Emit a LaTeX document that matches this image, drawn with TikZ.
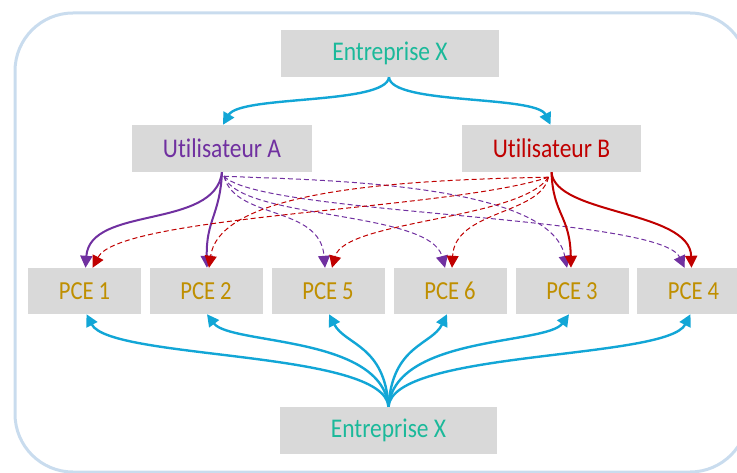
\documentclass[tikz,border=0pt]{standalone}
\usepackage{fontspec}
\setmainfont[FakeStretch=0.87, Ligatures=NoCommon, RawFeature=-liga]{Carlito}
\usepackage{tikz}
\usetikzlibrary{arrows.meta}

\definecolor{frameblue}{HTML}{C9DCEE}
\definecolor{boxgray}{HTML}{D9D9D9}
\definecolor{teal}{HTML}{1BB99A}
\definecolor{purp}{HTML}{7030A0}
\definecolor{darkred}{HTML}{C00000}
\definecolor{gold}{HTML}{BF8F00}
\definecolor{arrowblue}{HTML}{12A6D6}

\tikzset{
  box/.style={fill=boxgray, minimum height=47pt, inner sep=0pt, font=\fontsize{27}{30}\selectfont},
  pcebox/.style={box, minimum width=113pt, minimum height=46pt, text=gold, font=\fontsize{26}{30}\selectfont},
  bluearrow/.style={arrowblue, line width=2.4pt, -{Triangle[length=12pt,width=12pt]}},
  solidpurple/.style={purp, line width=2pt, -{Triangle[length=12pt,width=12pt]}},
  solidred/.style={darkred, line width=2pt, -{Triangle[length=12pt,width=12pt]}},
  dashpurple/.style={purp, line width=1pt, dash pattern=on 5pt off 3pt, -{Triangle[length=12pt,width=12pt]}},
  dashred/.style={darkred, line width=1pt, dash pattern=on 5pt off 3pt, -{Triangle[length=12pt,width=12pt]}}
}

\begin{document}
\begin{tikzpicture}[x=1pt, y=-1pt]

  \useasboundingbox (0,0) rectangle (737,473);
  \clip (0,0) rectangle (737,473);

  % frame
  \draw[frameblue, line width=3pt, rounded corners=58pt] (15,13) rectangle (748,472);

  % boxes
  \node[box, minimum width=218pt, text=teal] (ent) at (390,53.5) {Entreprise X};
  \node[box, minimum width=180pt, text=purp] (ua) at (222,148.5) {Utilisateur A};
  \node[box, minimum width=179pt, text=darkred] (ub) at (551.5,148.5) {Utilisateur B};

  \node[pcebox] (pce1) at (84.5,291) {PCE 1};
  \node[pcebox] (pce2) at (206,291) {PCE 2};
  \node[pcebox] (pce5) at (328,291) {PCE 5};
  \node[pcebox] (pce6) at (450,291) {PCE 6};
  \node[pcebox] (pce3) at (572,291) {PCE 3};
  \node[pcebox] (pce4) at (693.5,291) {PCE 4};

  \node[box, minimum width=217pt, text=teal] (entb) at (388.5,430.5) {Entreprise X};

  % top company to users
  \draw[bluearrow] ([xshift=-1pt]ent.south) .. controls (386,105) and (240,95) .. ([xshift=1pt]ua.north);
  \draw[bluearrow] ([xshift=-1pt]ent.south) .. controls (391,105) and (536,95) .. ([xshift=-1pt]ub.north);

  % user A
  \draw[dashpurple] ([xshift=2pt,yshift=-4pt]ua.south) .. controls (235,220) and (320,205) .. ([xshift=-3pt]pce5.north);
  \draw[dashpurple] ([xshift=2pt,yshift=-4pt]ua.south) .. controls (240,220) and (430,210) .. ([xshift=-5pt]pce6.north);
  \draw[dashpurple] ([xshift=2pt,yshift=-4pt]ua.south) .. controls (300,180) and (550,180) .. ([xshift=-5pt]pce3.north);
  \draw[dashpurple] ([xshift=2pt,yshift=-4pt]ua.south) .. controls (260,215) and (660,215) .. ([xshift=-9pt]pce4.north);
  \draw[solidpurple] (ua.south) .. controls (215,230) and (90,205) .. ([xshift=1pt]pce1.north);
  \draw[solidpurple] (ua.south) .. controls (220,215) and (206,220) .. ([xshift=1pt]pce2.north);

  % user B
  \draw[dashred] ([xshift=-3pt,yshift=-5pt]ub.south) .. controls (450,210) and (120,215) .. ([xshift=8pt]pce1.north);
  \draw[dashred] ([xshift=-3pt,yshift=-5pt]ub.south) .. controls (400,180) and (220,190) .. ([xshift=3pt]pce2.north);
  \draw[dashred] ([xshift=-3pt,yshift=-5pt]ub.south) .. controls (520,220) and (345,220) .. ([xshift=4pt]pce5.north);
  \draw[dashred] ([xshift=-3pt,yshift=-5pt]ub.south) .. controls (540,215) and (455,210) .. ([xshift=2pt]pce6.north);
  \draw[solidred] (ub.south) .. controls (553,215) and (570,215) .. ([xshift=-1pt]pce3.north);
  \draw[solidred] (ub.south) .. controls (555,215) and (690,210) .. ([xshift=-2pt]pce4.north);

  % bottom company to PCEs
  \draw[bluearrow] (entb.north) .. controls (385,350) and (110,360) .. ([xshift=2pt]pce1.south);
  \draw[bluearrow] (entb.north) .. controls (382,335) and (230,345) .. ([xshift=1pt]pce2.south);
  \draw[bluearrow] (entb.north) .. controls (385,345) and (345,345) .. ([xshift=1pt]pce5.south);
  \draw[bluearrow] (entb.north) .. controls (392,345) and (432,345) .. ([xshift=-3pt]pce6.south);
  \draw[bluearrow] (entb.north) .. controls (395,335) and (547,345) .. ([xshift=-3pt]pce3.south);
  \draw[bluearrow] (entb.north) .. controls (392,350) and (667,360) .. ([xshift=-3pt]pce4.south);

\end{tikzpicture}
\end{document}
